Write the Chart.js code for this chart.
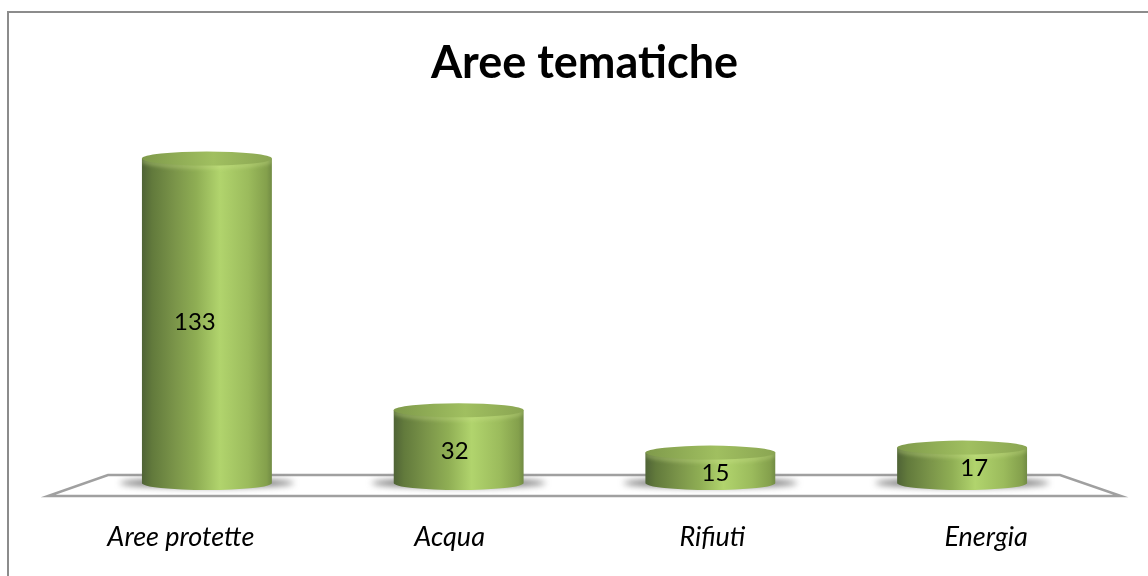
<!DOCTYPE html>
<html><head><meta charset="utf-8">
<style>html,body{margin:0;padding:0;background:#fff}#w{width:1148px;height:576px;position:relative}</style>
<script src="https://cdn.jsdelivr.net/npm/chart.js@4/dist/chart.umd.min.js"></script>
</head><body><div id="w"><canvas id="c" width="1148" height="576"></canvas></div>
<script>
const categories = ["Aree protette", "Acqua", "Rifiuti", "Energia"];
const values = [133, 32, 15, 17];
const chartTitle = "Aree tematiche";
const labelShift = [-26, -9, 2, 24];
const valueShiftX = [-12, -4, 5, 12];
const valueShiftY = [0, 3, 4, 1];

const RY = 7;
function sideGradient(ctx, l, r) {
  const g = ctx.createLinearGradient(l, 0, r, 0);
  g.addColorStop(0, "#4f6336");
  g.addColorStop(0.08, "#627a3c");
  g.addColorStop(0.25, "#7a9449");
  g.addColorStop(0.42, "#8fae54");
  g.addColorStop(0.6, "#b1d46d");
  g.addColorStop(0.82, "#9bbb5c");
  g.addColorStop(0.96, "#84a04c");
  g.addColorStop(1, "#718b44");
  return g;
}
const cylinder = {
  id: "cylinder",
  beforeDraw(chart) {
    const c = chart.ctx, W = chart.width, H = chart.height;
    c.save();
    c.fillStyle = "#fff"; c.fillRect(0, 0, W, H);
    c.strokeStyle = "#8c8c8c"; c.lineWidth = 2;
    c.beginPath();
    c.moveTo(8, H); c.lineTo(8, 12); c.lineTo(W, 12);
    c.stroke();
    c.restore();
  },
  beforeDatasetsDraw(chart) {
    const c = chart.ctx, a = chart.chartArea;
    const meta = chart.getDatasetMeta(0);
    c.save();
    c.strokeStyle = "#a0a0a0"; c.lineWidth = 2.5; c.lineJoin = "miter";
    c.beginPath();
    c.moveTo(a.left + 27, a.bottom - 15);
    c.lineTo(a.right - 28, a.bottom - 15);
    c.lineTo(a.right + 33, a.bottom + 6);
    c.lineTo(a.left - 33, a.bottom + 6);
    c.closePath(); c.stroke();
    meta.data.forEach(b => {
      const hw = b.width / 2;
      c.save();
      c.filter = "blur(3px)";
      c.fillStyle = "rgba(90,90,90,0.8)";
      c.beginPath();
      c.ellipse(b.x, a.bottom - 7, hw + 22, 4.5, 0, 0, Math.PI * 2);
      c.fill();
      c.restore();
    });
    c.restore();
    c.save();
    c.fillStyle = "#000";
    c.font = "italic 27px Lato";
    c.textAlign = "center"; c.textBaseline = "middle";
    categories.forEach((t, i) => {
      c.fillText(t, chart.scales.x.getPixelForValue(i) + labelShift[i], a.bottom + 47);
    });
    c.restore();
  },
  beforeDatasetDraw(chart) {
    const c = chart.ctx;
    const meta = chart.getDatasetMeta(0);
    c.save();
    c.beginPath();
    meta.data.forEach(b => {
      const hw = b.width / 2, l = b.x - hw, r = b.x + hw;
      c.moveTo(l, b.y);
      c.lineTo(r, b.y);
      c.lineTo(r, b.base - RY);
      c.ellipse(b.x, b.base - RY, hw, RY, 0, 0, Math.PI);
      c.closePath();
    });
    c.clip();
  },
  afterDatasetDraw(chart) {
    const c = chart.ctx;
    c.restore();
    const meta = chart.getDatasetMeta(0);
    meta.data.forEach((b, i) => {
      const hw = b.width / 2;
      c.save();
      c.beginPath();
      c.rect(b.x - hw, b.y, b.width, RY + 8);
      c.clip();
      c.filter = "blur(2px)";
      c.strokeStyle = "rgba(205,228,140,0.6)"; c.lineWidth = 3;
      c.beginPath();
      c.ellipse(b.x, b.y + 1, hw, RY, 0, 0, Math.PI);
      c.stroke();
      c.restore();
      const g = c.createLinearGradient(b.x - hw, 0, b.x + hw, 0);
      g.addColorStop(0, "#7f9a4b");
      g.addColorStop(0.55, "#a0bf60");
      g.addColorStop(1, "#8aa552");
      c.fillStyle = g;
      c.beginPath();
      c.ellipse(b.x, b.y, hw, RY, 0, 0, Math.PI * 2);
      c.fill();
      c.fillStyle = "#000";
      c.font = "24px Lato";
      c.textAlign = "center"; c.textBaseline = "middle";
      c.fillText(String(values[i]), b.x + valueShiftX[i], (b.y + b.base) / 2 - 2 + valueShiftY[i]);
    });
  }
};
new Chart(document.getElementById("c"), {
  type: "bar",
  data: { labels: categories, datasets: [{
    data: values,
    barThickness: 130,
    borderWidth: 0,
    backgroundColor(ctx) {
      const chart = ctx.chart;
      if (!chart.chartArea || ctx.dataIndex === undefined) return "#90ad58";
      const x = chart.scales.x.getPixelForValue(ctx.dataIndex);
      return sideGradient(chart.ctx, x - 65, x + 65);
    }
  }]},
  plugins: [cylinder],
  options: {
    responsive: false, animation: false, devicePixelRatio: 1,
    layout: { padding: { left: 81, right: 60, top: 0, bottom: 0 } },
    plugins: {
      legend: { display: false }, tooltip: { enabled: false },
      title: { display: true, text: chartTitle, color: "#000",
        font: { family: "Lato", size: 45, weight: "bold" },
        padding: { top: 36, bottom: 51 } }
    },
    scales: {
      y: { display: false, min: 0, max: 140 },
      x: {
        grid: { display: false }, border: { display: false },
        afterFit(s) { s.height = 86; },
        ticks: { display: false }
      }
    }
  }
});
</script></body></html>
